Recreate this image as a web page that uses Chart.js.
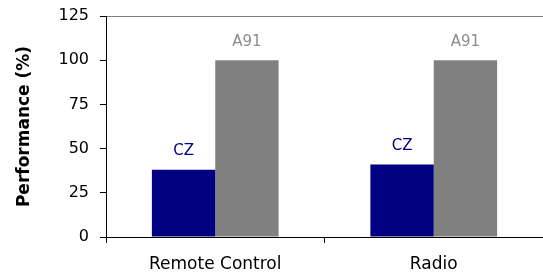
<!DOCTYPE html>
<html>
<head>
<meta charset="utf-8">
<script src="https://cdn.jsdelivr.net/npm/chart.js@4/dist/chart.umd.min.js"></script>
<style>
  body { margin: 0; background: #fff; }
  #wrap { width: 543px; height: 274px; }
</style>
</head>
<body>
<div id="wrap"><canvas id="perf"></canvas></div>
<script>
const categories = ["Remote Control", "Radio"];
const czValues = [38, 41];
const a91Values = [100, 100];
const yTicks = [0, 25, 50, 75, 100, 125];

const font = "'DejaVu Sans', Verdana, sans-serif";

// draw series name above each bar
const barLabels = {
  id: "barLabels",
  afterDatasetsDraw(chart) {
    const ctx = chart.ctx;
    ctx.save();
    ctx.font = "15px " + font;
    ctx.textAlign = "center";
    ctx.textBaseline = "bottom";
    chart.data.datasets.forEach((ds, i) => {
      const meta = chart.getDatasetMeta(i);
      ctx.fillStyle = ds.labelColor;
      meta.data.forEach((bar) => {
        ctx.fillText(ds.label, bar.x, bar.y - 11);
      });
    });
    ctx.restore();
  }
};

new Chart(document.getElementById("perf"), {
  type: "bar",
  data: {
    labels: categories,
    datasets: [
      { label: "CZ", data: czValues, backgroundColor: "#000080", labelColor: "#000080" },
      { label: "A91", data: a91Values, backgroundColor: "#808080", labelColor: "#8c8c8c" }
    ]
  },
  options: {
    responsive: true,
    maintainAspectRatio: false,
    animation: false,
    layout: { padding: { top: 16, right: 0, left: 0, bottom: 0 } },
    plugins: { legend: { display: false }, tooltip: { enabled: false } },
    datasets: { bar: { categoryPercentage: 0.58, barPercentage: 1 } },
    scales: {
      x: {
        grid: { offset: true, drawOnChartArea: false, tickLength: 6, tickColor: "#000" },
        border: { color: "#000" },
        ticks: { color: "#000", font: { family: font, size: 17 }, padding: 11 },
        afterFit(s) { s.height = 37; s.paddingLeft = 0; s.paddingRight = 0; }
      },
      y: {
        min: 0,
        max: 125,
        afterBuildTicks(s) { s.ticks = yTicks.map(v => ({ value: v })); },
        grid: {
          color: (c) => c.tick && c.tick.value === 125 ? "#808080" : "rgba(0,0,0,0)",
          tickColor: "#000",
          tickLength: 6
        },
        border: { color: "#000" },
        ticks: { color: "#000", font: { family: font, size: 16 }, padding: 11 },
        title: {
          display: true,
          text: "Performance (%)",
          color: "#000",
          font: { family: font, size: 17, weight: "bold" },
          padding: { top: 14, bottom: 0 }
        },
        afterFit(s) { s.width = 106; s.paddingTop = 0; s.paddingBottom = 0; }
      }
    }
  },
  plugins: [barLabels]
});
</script>
</body>
</html>
